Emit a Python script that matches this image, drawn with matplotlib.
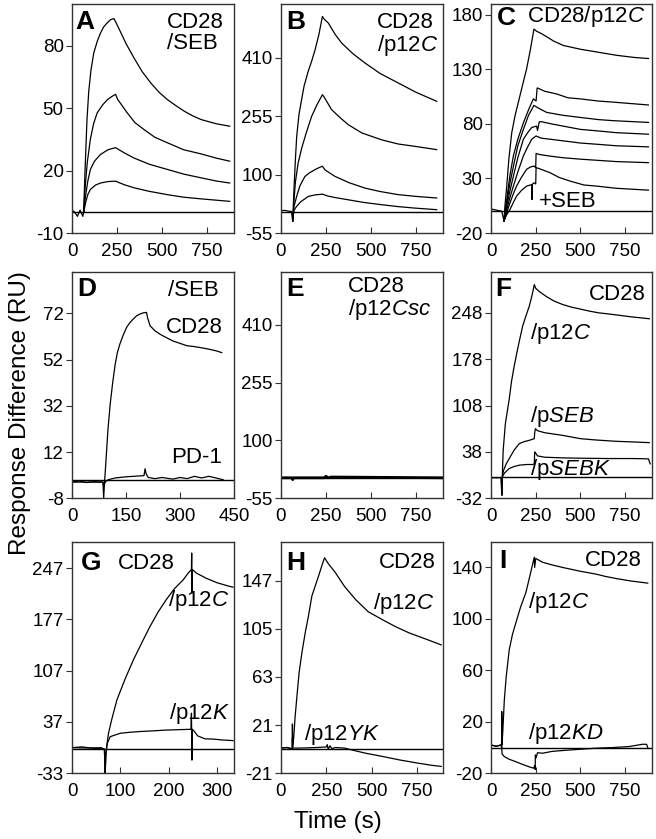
import matplotlib
matplotlib.use("Agg")
import matplotlib.pyplot as plt

plt.rcParams['font.family'] = ['Liberation Sans', 'DejaVu Sans']
plt.rcParams['mathtext.fontset'] = 'custom'
plt.rcParams['mathtext.rm'] = 'Liberation Sans'
plt.rcParams['mathtext.it'] = 'Liberation Sans:italic'
plt.rcParams['axes.unicode_minus'] = False

# ---- panel A : CD28 / SEB, four concentrations ----
a1_t = [0, 15, 30, 45, 60, 65, 70, 75, 83, 93, 105, 121, 140, 158, 176, 196, 215, 233, 245, 270, 300, 345, 390, 438, 485, 531, 580, 624, 670, 717, 800, 876]
a1_y = [1, 0, -2, 1, -2, 0, 14, 26, 44, 58, 68, 76.5, 82, 86, 89, 91, 92.5, 93, 91, 86.5, 81, 74, 67.5, 62, 57.5, 54, 51, 48.5, 46.3, 44.5, 42.5, 41.3]
a2_t = [65, 70, 75, 85, 102, 120, 140, 170, 196, 220, 242, 255, 280, 307, 350, 400, 460, 531, 620, 717, 800, 876]
a2_y = [0, 8, 14, 24, 35, 42.5, 47.7, 51.5, 54, 55.5, 56.6, 54, 51, 47.7, 43, 39.7, 36, 33.3, 30, 28, 26, 24.5]
a3_t = [65, 70, 75, 88, 102, 125, 158, 200, 242, 290, 345, 430, 531, 620, 717, 800, 876]
a3_y = [0, 4, 7.6, 15, 20.5, 24.5, 27.7, 30, 31, 28.5, 26, 23, 20.5, 18.3, 16.5, 15, 14]
a4_t = [65, 75, 88, 102, 130, 158, 200, 242, 290, 345, 430, 531, 620, 717, 876]
a4_y = [0, 4.4, 8.5, 10.9, 13, 14, 14.7, 14.9, 13.2, 11.7, 10, 8.4, 7.2, 6.4, 5.2]

# ---- panel B : CD28 / p12C ----
b1_t = [0, 20, 40, 58, 65, 72, 80, 87, 100, 115, 128, 150, 170, 189, 210, 230, 240, 263, 300, 337, 400, 467, 550, 652, 750, 865]
b1_y = [4, 5, 3, 2, -24, 60, 140, 200, 260, 300, 334, 372, 400, 430, 470, 519, 512, 501.5, 472, 448.5, 420, 395.5, 368, 342.5, 318, 294]
b2_t = [65, 72, 80, 95, 115, 140, 170, 200, 230, 240, 281, 330, 374, 450, 559, 650, 744, 865]
b2_y = [-24, 30, 80, 130, 170, 210, 254, 285, 311.6, 305, 272, 250, 232, 210, 192, 181, 174.7, 166]
b3_t = [65, 72, 87, 105, 133, 160, 189, 210, 230, 245, 300, 380, 467, 550, 652, 750, 865]
b3_y = [-24, 15, 42, 70, 95, 105, 113, 118, 122, 112, 95, 78, 64, 55, 46.6, 42, 37.8]
b4_t = [65, 72, 87, 110, 152, 190, 230, 260, 300, 374, 460, 559, 650, 744, 865]
b4_y = [-24, 5, 15.7, 28, 42, 46, 48, 43, 39, 33, 26, 20, 15, 11, 6.8]

# ---- panel C : CD28 / p12C then +SEB ----
c1_t = [0, 30, 60, 73, 78, 88, 100, 116, 135, 162, 180, 199, 220, 240, 255, 280, 311, 350, 404, 500, 591, 700, 800, 880]
c1_y = [2, 1, 0, -9, 5, 23, 48, 72, 88, 106, 118, 130.5, 148, 167, 165, 163, 160, 156, 152, 148.5, 146, 143, 141, 140]
c2_t = [73, 78, 88, 105, 125, 150, 181, 210, 237, 252, 258, 264, 300, 367, 430, 498, 600, 684, 880]
c2_y = [-9, 0, 10.7, 32, 50.7, 66, 81, 93, 103, 101, 113, 112.7, 110, 107.5, 104, 103, 101, 100, 97.4]
c3_t = [73, 80, 88, 105, 125, 150, 181, 210, 240, 260, 311, 400, 498, 600, 684, 880]
c3_y = [-9, 0, 7.6, 25, 41, 60, 75, 88, 97, 95, 90.6, 88, 86, 84, 83, 81.4]
c4_t = [73, 80, 88, 105, 125, 150, 181, 205, 228, 255, 260, 270, 283, 340, 404, 500, 591, 700, 880]
c4_y = [-9, -2, 4.6, 18, 32, 49, 66, 72, 76.8, 78, 74, 82, 82, 80, 78, 75, 73.7, 72, 70.6]
c5_t = [73, 80, 88, 105, 125, 150, 181, 205, 228, 252, 280, 330, 404, 500, 591, 700, 880]
c5_y = [-9, -4, 1.5, 12, 23, 36, 50.7, 59, 66, 69, 67, 66, 64.5, 62.5, 61.4, 60, 59]
c6_t = [73, 85, 106, 125, 143, 170, 199, 220, 240, 250, 252, 270, 330, 404, 500, 591, 700, 880]
c6_y = [-9, -3, 7.6, 16, 23, 31, 38.4, 40.5, 41.4, 40, 53, 52, 50.5, 49, 47.7, 46.7, 45.5, 44.5]
c7_t = [73, 85, 106, 125, 143, 170, 199, 220, 228, 229, 230, 240, 250, 252, 270, 330, 380, 442, 520, 591, 700, 880]
c7_y = [-9, -4, 1.5, 8, 13.8, 19, 23, 24, 24.5, 10.7, 24.5, 26, 25, 40, 39, 35.3, 31, 27.6, 24, 23, 21, 19.3]

# ---- panel D : CD28 and PD-1 / SEB ----
d1_t = [0, 20, 40, 60, 80, 86, 88, 90, 93, 96, 100, 106, 113, 120, 126, 133, 142, 152, 161, 170, 180, 189, 198, 207, 210, 217, 230, 244, 262, 281, 300, 319, 340, 356, 380, 400, 416]
d1_y = [-1, -0.5, -1.2, -0.8, -1, -1, -8, -2, 5, 12.3, 22, 32.6, 42, 50, 55, 58.7, 62.5, 66, 68, 69.5, 71, 71.7, 72.2, 72.4, 70, 66.6, 64.5, 63, 61.5, 60, 59, 58, 57.6, 57.2, 56.5, 55.8, 55]
d2_t = [0, 40, 80, 86, 88, 92, 100, 120, 150, 180, 200, 203, 206, 212, 230, 250, 280, 300, 320, 340, 360, 380, 400, 420]
d2_y = [-1, -1, -1, -1, -3, -1, 0, 0.8, 1.3, 1.6, 1.8, 4.8, 2.5, 1, 0.5, 1, 0.3, 1, 0.5, 1.5, 0.8, 1.5, 0.8, 0]

# ---- panel E : CD28 / p12Csc ----
e_t = [0, 60, 65, 70, 240, 250, 260, 280, 900]
e_y = [0, 0, -5, 0, 0, 4, 0, 2, 0]

# ---- panel F : CD28 / p12C, pSEB, pSEBK ----
f1_t = [0, 30, 55, 61, 63, 68, 80, 102, 115, 130, 150, 177, 195, 214, 230, 242, 250, 270, 307, 350, 400, 450, 493, 550, 600, 680, 780, 885]
f1_y = [-1, -1, -1, -27, 0, 40, 80, 118, 145, 168, 195, 228, 243, 258, 275, 290.5, 285, 280, 273, 266, 260.5, 256.5, 254, 250.5, 248, 245.5, 242, 239]
f2_t = [61, 63, 70, 85, 102, 130, 158, 185, 214, 242, 244, 248, 260, 300, 350, 400, 500, 587, 700, 800, 885]
f2_y = [-27, 0, 10, 20, 28, 41, 50.5, 53.5, 55.5, 58, 66, 73, 70, 67, 65, 63, 58, 56, 54, 53, 52]
f3_t = [61, 63, 75, 102, 130, 158, 200, 233, 242, 244, 250, 260, 300, 400, 500, 660, 800, 880, 890]
f3_y = [-27, 0, 6, 13, 16, 18, 19, 19, 20, 38, 36, 32, 30, 29, 28.5, 28, 28, 27.5, 20]

# ---- panel G : CD28 / p12C, p12K ----
g1_t = [0, 20, 40, 60, 67, 68.6, 70, 72, 75.5, 82, 92.8, 110, 127, 145, 161, 178, 195, 212, 230, 240, 247, 247.5, 248, 249, 257.6, 278, 300, 326, 333]
g1_y = [2, 3, 1.5, 2, 0, -33, -10, 5, 21.6, 40, 67, 96, 121.8, 146, 167, 187, 204, 219, 231, 240, 245, 267.5, 213, 245, 240, 233, 227, 222, 221]
g2_t = [0, 40, 67, 68.6, 70, 73, 79, 99.8, 120, 141, 170, 195, 220, 243, 246, 247, 248, 249, 252, 260, 275, 290, 310, 333]
g2_y = [2, 1.5, 0, -33, -5, 8, 17, 21.6, 23, 24, 25, 26, 26.5, 27, 27, 49, -15, 27, 25, 18, 14, 13.8, 12.5, 11.6]

# ---- panel H : CD28 / p12C, p12YK ----
h1_t = [0, 30, 55, 62, 63, 64, 70, 78, 90, 100, 115, 135, 150, 170, 190, 207, 225, 240, 260, 300, 350, 411, 480, 559, 630, 707, 800, 883]
h1_y = [1, 1.5, 0.5, 0, 22, 2, 10, 28.6, 50, 67, 84, 103, 115, 133.5, 143, 151, 160, 167, 162, 154, 142, 130.6, 120, 113, 107, 101.4, 96, 91]
h2_t = [0, 30, 62, 63, 64, 100, 200, 250, 255, 260, 270, 280, 300, 350, 400, 467, 550, 652, 750, 830, 883]
h2_y = [1, 1.5, 0.5, 10, 1, 1, 1.5, 2, 4, 0, 3, 0.5, 1.5, 1, -1, -3.5, -6, -9.3, -12, -14, -15]

# ---- panel I : CD28 / p12C, p12KD ----
i1_t = [0, 30, 55, 59.5, 60, 61, 65, 74.5, 85, 102, 120, 139, 165, 195, 220, 242, 244, 250, 288.6, 340, 400, 500, 587, 640, 699, 780, 876]
i1_y = [2, 1, 2, 0, 28, 2, 10, 37, 55, 76, 88, 97, 109, 120.5, 135, 148, 140, 147, 144, 142, 140, 137, 134.8, 133, 131.4, 129.5, 127.8]
i2_t = [0, 30, 55, 59.5, 62, 74.5, 100, 139, 175, 214, 238, 245, 247, 248, 252, 260, 288, 340, 400, 500, 587, 680, 773, 848, 870, 876]
i2_y = [2, 1, 2, 1, -5, -7, -9, -11, -13, -15, -16, -14, -17, -5.7, -8, -4, -4.4, -3, -2.3, -1.3, -0.5, 0, 0.8, 2.6, 2.5, 0]

x900_ticks = [0, 250, 500, 750]
d_ticks = [0, 150, 300, 450]
g_ticks = [0, 100, 200, 300]
a_yticks = [-10, 20, 50, 80]
b_yticks = [-55, 100, 255, 410]
c_yticks = [-20, 30, 80, 130, 180]
d_yticks = [-8, 12, 32, 52, 72]
f_yticks = [-32, 38, 108, 178, 248]
g_yticks = [-33, 37, 107, 177, 247]
h_yticks = [-21, 21, 63, 105, 147]
i_yticks = [-20, 20, 60, 100, 140]

W, H = 656, 839
fig = plt.figure(figsize=(W / 100, H / 100), dpi=100)

col_px = [(72, 162), (281, 162), (491, 161)]
row_px = [(4, 233), (271.7, 498.3), (541.7, 773.3)]

LBL = 16
LET = 19


def make_ax(r, c):
    left, w = col_px[c]
    top, bot = row_px[r]
    ax = fig.add_axes([left / W, 1 - bot / H, w / W, (bot - top) / H])
    for s in ax.spines.values():
        s.set_color('#333333')
        s.set_linewidth(1.0)
    ax.tick_params(axis='x', direction='in', length=4, labelsize=13.5, pad=7, color='#333333')
    ax.tick_params(axis='y', direction='out', length=4, labelsize=13.5, pad=2, color='#333333')
    ax.axhline(0, color='black', lw=1.0, zorder=1)
    return ax


def curves(ax, pairs, lw=0.9):
    for t, y in pairs:
        ax.plot(t, y, color='black', lw=lw)


def letter(ax, s, x, y, va='top'):
    ax.text(x, y, s, transform=ax.transAxes, fontsize=LET, fontweight='bold',
            ha='left', va=va)


def label(ax, s, x, y, ha='left', va='center'):
    ax.text(x, y, s, transform=ax.transAxes, fontsize=LBL, ha=ha, va=va,
            linespacing=1.0)


# A
ax = make_ax(0, 0)
curves(ax, [(a1_t, a1_y), (a2_t, a2_y), (a3_t, a3_y), (a4_t, a4_y)])
ax.set_xlim(0, 900); ax.set_ylim(-10, 100)
ax.set_xticks(x900_ticks); ax.set_yticks(a_yticks)
letter(ax, 'A', 0.02, 0.975)
label(ax, 'CD28\n/SEB', 0.585, 0.965, va='top')

# B
ax = make_ax(0, 1)
curves(ax, [(b1_t, b1_y), (b2_t, b2_y), (b3_t, b3_y), (b4_t, b4_y)])
ax.set_xlim(0, 900); ax.set_ylim(-55, 552)
ax.set_xticks(x900_ticks); ax.set_yticks(b_yticks)
letter(ax, 'B', 0.03, 0.975)
label(ax, 'CD28\n/p$\\mathit{12C}$', 0.59, 0.965, va='top')

# C
ax = make_ax(0, 2)
curves(ax, [(c1_t, c1_y), (c2_t, c2_y), (c3_t, c3_y), (c4_t, c4_y),
            (c5_t, c5_y), (c6_t, c6_y), (c7_t, c7_y)])
ax.set_xlim(0, 900); ax.set_ylim(-20, 190)
ax.set_xticks(x900_ticks); ax.set_yticks(c_yticks)
letter(ax, 'C', 0.035, 0.99)
label(ax, 'CD28/p$\\mathit{12C}$', 0.225, 1.0, va='top')
label(ax, '+SEB', 0.3, 0.137)

# D
ax = make_ax(1, 0)
curves(ax, [(d1_t, d1_y), (d2_t, d2_y)])
ax.set_xlim(0, 450); ax.set_ylim(-8, 90)
ax.set_xticks(d_ticks); ax.set_yticks(d_yticks)
letter(ax, 'D', 0.03, 0.975)
label(ax, '/SEB', 0.595, 0.965, va='top')
label(ax, 'CD28', 0.93, 0.755, ha='right')
label(ax, 'PD-1', 0.925, 0.18, ha='right')

# E
ax = make_ax(1, 1)
curves(ax, [(e_t, e_y)], lw=2.0)
ax.set_xlim(0, 900); ax.set_ylim(-55, 552)
ax.set_xticks(x900_ticks); ax.set_yticks(b_yticks)
letter(ax, 'E', 0.03, 0.975)
label(ax, 'CD28\n/p$\\mathit{12Csc}$', 0.415, 0.98, va='top')

# F
ax = make_ax(1, 2)
curves(ax, [(f1_t, f1_y), (f2_t, f2_y), (f3_t, f3_y)])
ax.set_xlim(0, 900); ax.set_ylim(-32, 310)
ax.set_xticks(x900_ticks); ax.set_yticks(f_yticks)
letter(ax, 'F', 0.025, 0.975)
label(ax, 'CD28', 0.963, 0.9, ha='right')
label(ax, '/p$\\mathit{12C}$', 0.245, 0.728)
label(ax, '/p$\\mathit{SEB}$', 0.245, 0.36)
label(ax, '/p$\\mathit{SEBK}$', 0.245, 0.125)

# G
ax = make_ax(2, 0)
curves(ax, [(g1_t, g1_y), (g2_t, g2_y)])
ax.set_xlim(0, 335); ax.set_ylim(-33, 283)
ax.set_xticks(g_ticks); ax.set_yticks(g_yticks)
letter(ax, 'G', 0.055, 0.907, va='center')
label(ax, 'CD28', 0.285, 0.907)
label(ax, '/p$\\mathit{12C}$', 0.59, 0.748)
label(ax, '/p$\\mathit{12K}$', 0.6, 0.259)

# H
ax = make_ax(2, 1)
curves(ax, [(h1_t, h1_y), (h2_t, h2_y)])
ax.set_xlim(0, 893); ax.set_ylim(-21, 181)
ax.set_xticks(x900_ticks); ax.set_yticks(h_yticks)
letter(ax, 'H', 0.03, 0.91, va='center')
label(ax, 'CD28', 0.957, 0.91, ha='right')
label(ax, '/p$\\mathit{12C}$', 0.57, 0.733)
label(ax, '/p$\\mathit{12YK}$', 0.145, 0.166)

# I
ax = make_ax(2, 2)
curves(ax, [(i1_t, i1_y), (i2_t, i2_y)])
ax.set_xlim(0, 900); ax.set_ylim(-20, 160)
ax.set_xticks(x900_ticks); ax.set_yticks(i_yticks)
letter(ax, 'I', 0.05, 0.917, va='center')
label(ax, 'CD28', 0.938, 0.917, ha='right')
label(ax, '/p$\\mathit{12C}$', 0.23, 0.737)
label(ax, '/p$\\mathit{12KD}$', 0.23, 0.174)

fig.text(20 / W, 1 - 413 / H, 'Response Difference (RU)', rotation=90,
         fontsize=17.5, ha='center', va='center')
fig.text(338 / W, 1 - 822 / H, 'Time (s)', fontsize=17.5, ha='center', va='center')

fig.savefig('out.png', dpi=100)
